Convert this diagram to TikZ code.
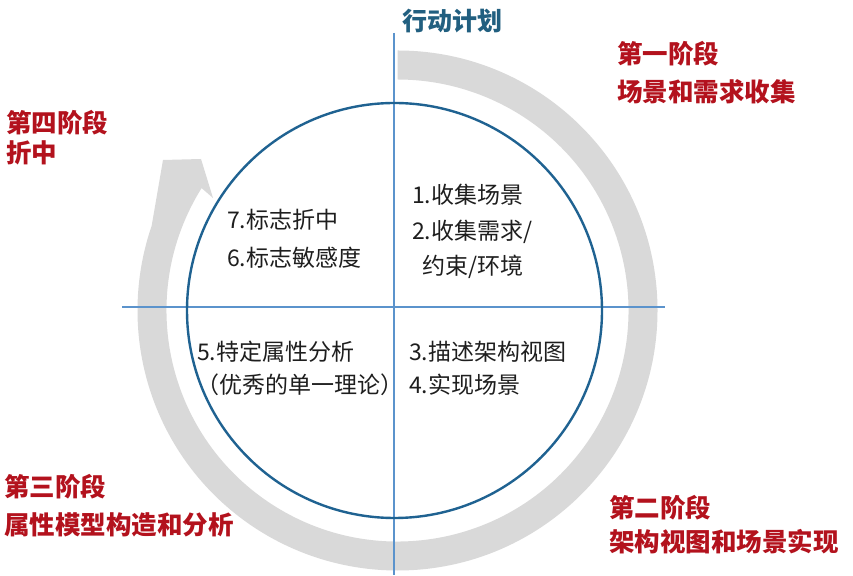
\documentclass[tikz,border=0pt]{standalone}
\usepackage{fontspec}
\newfontfamily\cjk{Noto Sans CJK SC}
\begin{document}
\begin{tikzpicture}[x=1pt,y=1pt,
  axisline/.style={draw=axisblue,line width=2.4pt},
  ring/.style={draw=ringblue,line width=2.4pt},
  stage/.style={font=\cjk\bfseries\fontsize{25.5}{29}\selectfont,text=stagered,inner sep=0pt,anchor=west},
  item/.style={font=\cjk\fontsize{23}{28}\selectfont,text=textdark,inner sep=0pt,anchor=west},
  title/.style={font=\cjk\bfseries\fontsize{25}{29}\selectfont,text=titleblue,inner sep=0pt}]
\definecolor{axisblue}{HTML}{5B93CC}
\definecolor{ringblue}{HTML}{1F6291}
\definecolor{bandgray}{HTML}{D9D9D9}
\definecolor{stagered}{HTML}{B3121D}
\definecolor{textdark}{HTML}{1E1E1E}
\definecolor{titleblue}{HTML}{215F80}
\useasboundingbox (0,0) rectangle (853,575);
\fill[white] (0,0) rectangle (853,575);
% gray circular arrow
\coordinate (G) at (397.5,264.5);
\coordinate (wingout) at (163,415);
\coordinate (tip) at (201,416);
\coordinate (wingin) at (213,377);
\fill[bandgray] ([shift={(G)}]90:260) arc[start angle=90,end angle=-199,radius=260]
  -- (wingout) -- (tip) -- (wingin)
  -- ([shift={(G)}]-212:231) arc[start angle=-212,end angle=90,radius=231] -- cycle;
% axes
\coordinate (vtop) at (394,542);
\coordinate (vbot) at (394,0);
\coordinate (hl) at (122,268);
\coordinate (hr) at (665,268);
\draw[axisline] (vtop) -- (vbot);
\draw[axisline] (hl) -- (hr);
% ring
\coordinate (C) at (394.5,264.5);
\draw[ring] (C) circle[radius=207.5];
% title
\node[title] (t) at (452,554) {行动计划};
% stages
\node[stage] (s1a) at (617,521) {第一阶段};
\node[stage] (s1b) at (617,483) {场景和需求收集};
\node[stage] (s4a) at (6,452) {第四阶段};
\node[stage] (s4b) at (6,422) {折中};
\node[stage] (s3a) at (4,88) {第三阶段};
\node[stage] (s3b) at (4,50) {属性模型构造和分析};
\node[stage] (s2a) at (609,67) {第二阶段};
\node[stage] (s2b) at (609,33) {架构视图和场景实现};
% items
\node[item] (i1) at (412,380) {1.收集场景};
\node[item] (i2) at (412,343) {2.收集需求/};
\node[item] (i2b) at (422,308) {约束/环境};
\node[item] (i7) at (227,355) {7.标志折中};
\node[item] (i6) at (227,317) {6.标志敏感度};
\node[item] (i5) at (197,223) {5.特定属性分析};
\node[item] (i5b) at (196,190) {（优秀的单一理论）};
\node[item] (i3) at (409,223) {3.描述架构视图};
\node[item] (i4) at (409,190) {4.实现场景};
\end{tikzpicture}
\end{document}
